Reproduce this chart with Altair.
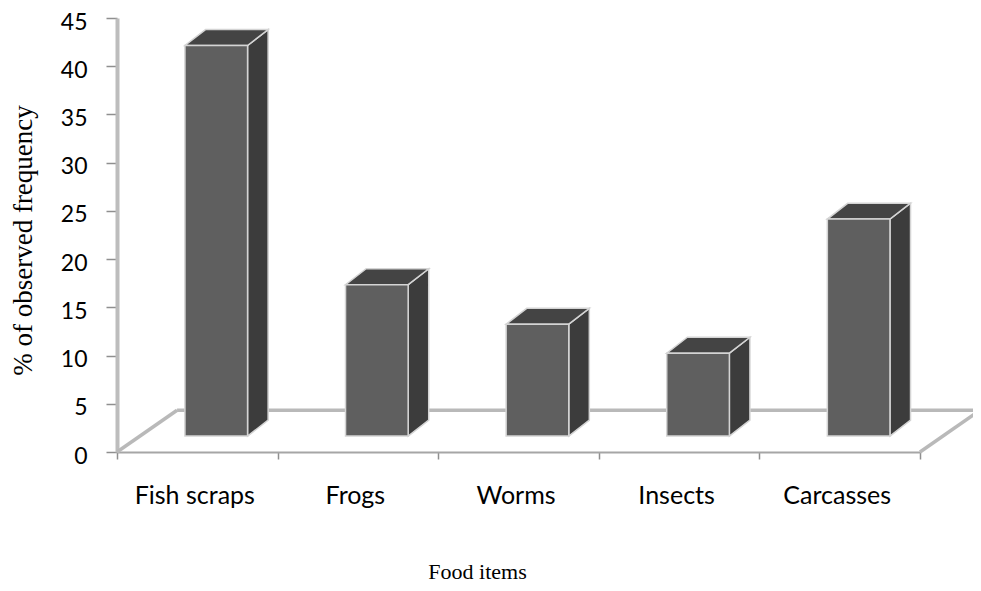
import altair as alt
import pandas as pd

# ---- data ----
categories = ["Fish scraps", "Frogs", "Worms", "Insects", "Carcasses"]
values = [40.5, 15.7, 11.6, 8.6, 22.5]
y_ticks = [0, 5, 10, 15, 20, 25, 30, 35, 40, 45]

# ---- pseudo-3D geometry (in data units) ----
N = len(categories)
BAR_W = 0.39            # bar width as a fraction of a category slot
OFF_X, OFF_Y = 0.118, 1.65    # bar front face offset into depth
DEP_X, DEP_Y = 0.128, 1.65    # bar depth
FLOOR_X, FLOOR_Y = 0.374, 4.33  # floor depth

front, side, top = [], [], []
for i, (c, v) in enumerate(zip(categories, values)):
    x0 = i + 0.5 + OFF_X - BAR_W / 2
    x1 = x0 + BAR_W
    front.append({"cat": c, "x": x0, "x2": x1, "y": OFF_Y, "y2": OFF_Y + v})
    side.append({"cat": c, "x": x1, "y": OFF_Y, "y2": OFF_Y + v})
    side.append({"cat": c, "x": x1 + DEP_X, "y": OFF_Y + DEP_Y, "y2": OFF_Y + v + DEP_Y})
    top.append({"cat": c, "y": OFF_Y + v, "x": x0, "x2": x1})
    top.append({"cat": c, "y": OFF_Y + v + DEP_Y, "x": x0 + DEP_X, "x2": x1 + DEP_X})

floor = pd.DataFrame([
    {"x": 0, "y": 0, "x2": FLOOR_X, "y2": FLOOR_Y},
    {"x": FLOOR_X, "y": FLOOR_Y, "x2": N + FLOOR_X, "y2": FLOOR_Y},
    {"x": N, "y": 0, "x2": N + FLOOR_X, "y2": FLOOR_Y},
])

W, H = 803, 434
xs = alt.Scale(domain=[0, N], nice=False, zero=False)
ys = alt.Scale(domain=[0, 45], nice=False, zero=False)

SERIF = "Liberation Serif, Times New Roman, serif"
label_arr = "[" + ",".join("'%s'" % c for c in categories) + ",'']"
x_axis = alt.Axis(
    values=list(range(N + 1)), labelExpr=label_arr + "[datum.value]",
    labelOffset=W / N / 2 - 3, labelFlush=False, labelOverlap=False,
    labelFont="Lato", labelFontSize=25, labelColor="black",
    labelBaseline="alphabetic", labelPadding=44,
    domainColor="#a6a6a6", domainWidth=2,
    tickColor="#8f8f8f", tickWidth=1.5, tickSize=7, grid=False,
    titleFont=SERIF, titleFontSize=22, titleFontWeight="normal",
    titleColor="black", titleX=360, titleY=126, titleAlign="center",
    titleBaseline="alphabetic",
)
y_axis = alt.Axis(
    values=y_ticks, labelFont="Lato", labelFontSize=23, labelColor="black",
    labelPadding=19, labelOffset=4, domainColor="#bdbdbd", domainWidth=4,
    tickColor="#8f8f8f", tickWidth=1.5, tickSize=11, grid=False,
    titleFont=SERIF, titleFontSize=27, titleFontWeight="normal",
    titleColor="black", titleX=-86, titleY=222, titleAngle=-90,
    titleAlign="center", titleBaseline="alphabetic",
)
X = alt.X("x:Q", scale=xs, axis=x_axis, title="Food items")
Y = alt.Y("y:Q", scale=ys, axis=y_axis, title="% of observed frequency")

floor_layer = alt.Chart(floor).mark_rule(color="#b9b9b9", strokeWidth=3.5).encode(
    x=X, y=Y, x2="x2:Q", y2="y2:Q")

front_layer = alt.Chart(pd.DataFrame(front)).mark_rect(
    color="#5f5f5f", stroke="#d4d4d4", strokeWidth=1.5).encode(
    x=X, x2="x2:Q", y=Y, y2="y2:Q")

side_layer = alt.Chart(pd.DataFrame(side)).mark_area(
    orient="vertical", color="#3c3c3c", stroke="#d4d4d4", strokeWidth=1.5).encode(
    x=X, y=Y, y2="y2:Q", detail="cat:N")

top_layer = alt.Chart(pd.DataFrame(top)).mark_area(
    orient="horizontal", color="#444444", stroke="#d4d4d4", strokeWidth=1.5).encode(
    y=Y, x=X, x2="x2:Q", detail="cat:N")

chart = alt.layer(floor_layer, side_layer, top_layer, front_layer).properties(
    width=W, height=H,
    padding={"left": 109, "top": 10, "right": 53, "bottom": 131},
    autosize=alt.AutoSizeParams(type="none"),
    background="white",
).configure_view(stroke=None)

chart.save("out.html", embed_options={"renderer": "svg", "actions": False})
